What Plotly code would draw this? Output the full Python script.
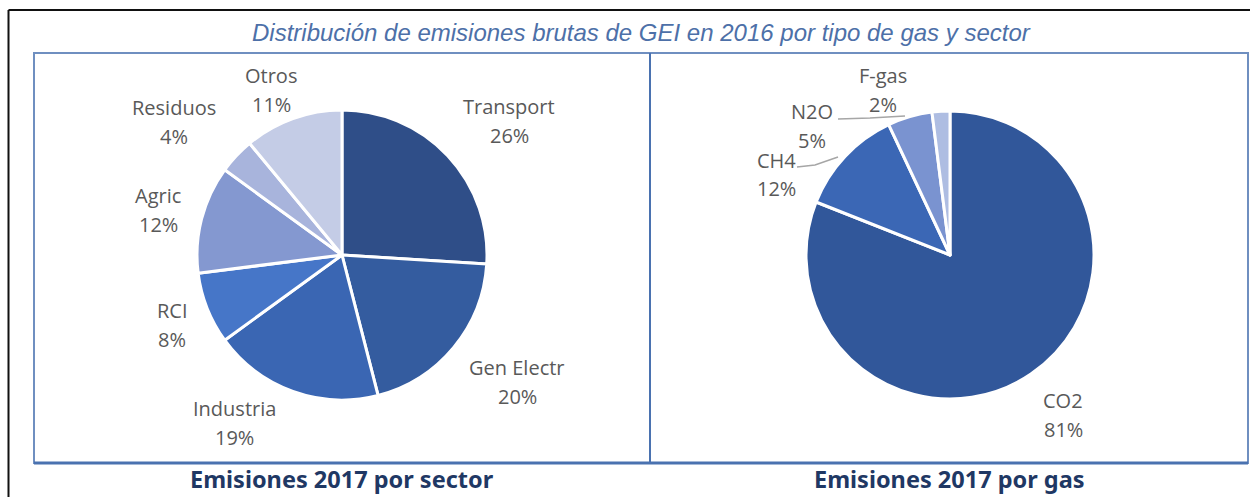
import plotly.graph_objects as go

W, H = 1250, 497

# ---- data ----
sector_labels = ["Transport", "Gen Electr", "Industria", "RCI", "Agric", "Residuos", "Otros"]
sector_values = [26, 20, 19, 8, 12, 4, 11]
gas_labels = ["CO2", "CH4", "N2O", "F-gas"]
gas_values = [81, 12, 5, 2]

sector_colors = ["#2f4e88", "#345c9f", "#3a66b3", "#4676c8", "#8498d0", "#a8b4dc", "#c4cce6"]
gas_colors = ["#31579a", "#3b67b5", "#7a93d0", "#aebde2"]

# label centers (name line) in pixels (layout, not data)
sector_label_pos = [(509, 106), (517, 367), (234, 408), (172, 310), (158, 195), (174, 108), (271, 75)]
gas_label_pos = [(1063, 400), (776, 160), (812, 111), (883, 75)]
LINE_GAP = 29


def px(x):
    return x / W


def py(y):
    return 1 - y / H


def pie_domain(cx, cy, r):
    return dict(x=[px(cx - r), px(cx + r)], y=[py(cy + r), py(cy - r)])


fig = go.Figure()
fig.add_trace(go.Pie(
    labels=sector_labels, values=sector_values, sort=False, direction="clockwise",
    rotation=0, textinfo="none", hoverinfo="label+percent",
    marker=dict(colors=sector_colors, line=dict(color="white", width=3)),
    domain=pie_domain(342, 255, 145), showlegend=False,
))
fig.add_trace(go.Pie(
    labels=gas_labels, values=gas_values, sort=False, direction="clockwise",
    rotation=0, textinfo="none", hoverinfo="label+percent",
    marker=dict(colors=gas_colors, line=dict(color="white", width=3)),
    domain=pie_domain(950, 255, 144), showlegend=False,
))

label_font = dict(family="Open Sans", size=20, color="#595959")


def ann(x, y, text, font):
    return dict(x=px(x), y=py(y), xref="paper", yref="paper", showarrow=False,
                xanchor="center", yanchor="middle", text=text, font=font, align="center")


annotations = []
for labs, vals, poss in ((sector_labels, sector_values, sector_label_pos),
                         (gas_labels, gas_values, gas_label_pos)):
    for lab, val, (x, y) in zip(labs, vals, poss):
        annotations.append(ann(x, y, lab, label_font))
        annotations.append(ann(x, y + LINE_GAP, f"{val}%", label_font))

annotations.append(ann(642, 33,
                       "<i>Distribución de emisiones brutas de GEI en 2016 por tipo de gas y sector</i>",
                       dict(family="Liberation Sans", size=24, color="#4d70a8")))
annotations.append(ann(342, 479, "<b>Emisiones 2017 por sector</b>",
                       dict(family="Noto Sans", size=23.5, color="#1f3864")))
annotations.append(ann(949, 479, "<b>Emisiones 2017 por gas</b>",
                       dict(family="Noto Sans", size=23.5, color="#1f3864")))

shapes = []
# outer black frame (top and left)
shapes.append(dict(type="line", xref="paper", yref="paper", x0=px(8.5), x1=1, y0=py(10), y1=py(10),
                   line=dict(color="#111111", width=2)))
shapes.append(dict(type="line", xref="paper", yref="paper", x0=px(8.5), x1=px(8.5), y0=py(10), y1=0,
                   line=dict(color="#111111", width=2)))
# blue boxes
box_col = "#6f8fc0"
shapes.append(dict(type="rect", xref="paper", yref="paper", x0=px(34), x1=px(650), y0=py(463), y1=py(53),
                   line=dict(color=box_col, width=2)))
shapes.append(dict(type="rect", xref="paper", yref="paper", x0=px(650), x1=px(1248), y0=py(463), y1=py(53),
                   line=dict(color=box_col, width=2)))
shapes.append(dict(type="line", xref="paper", yref="paper", x0=px(34), x1=px(1248), y0=py(463), y1=py(463),
                   line=dict(color="#4a72b0", width=3)))
shapes.append(dict(type="line", xref="paper", yref="paper", x0=px(650), x1=px(650), y0=py(463), y1=py(53),
                   line=dict(color="#4a72b0", width=2)))
# leader lines
lead = dict(color="#a6a6a6", width=1.5)
shapes.append(dict(type="path", xref="paper", yref="paper",
                   path=f"M {px(838)} {py(119)} L {px(870)} {py(118)} L {px(905)} {py(116)}", line=lead))
shapes.append(dict(type="path", xref="paper", yref="paper",
                   path=f"M {px(797)} {py(167)} L {px(815)} {py(165)} L {px(838)} {py(157)}", line=lead))

fig.update_layout(
    width=W, height=H, margin=dict(l=0, r=0, t=0, b=0),
    paper_bgcolor="white", plot_bgcolor="white",
    annotations=annotations, shapes=shapes,
)

fig.write_html("out.html", config={"displayModeBar": False},
               post_script="document.body.style.margin='0';document.body.style.overflow='hidden';")
